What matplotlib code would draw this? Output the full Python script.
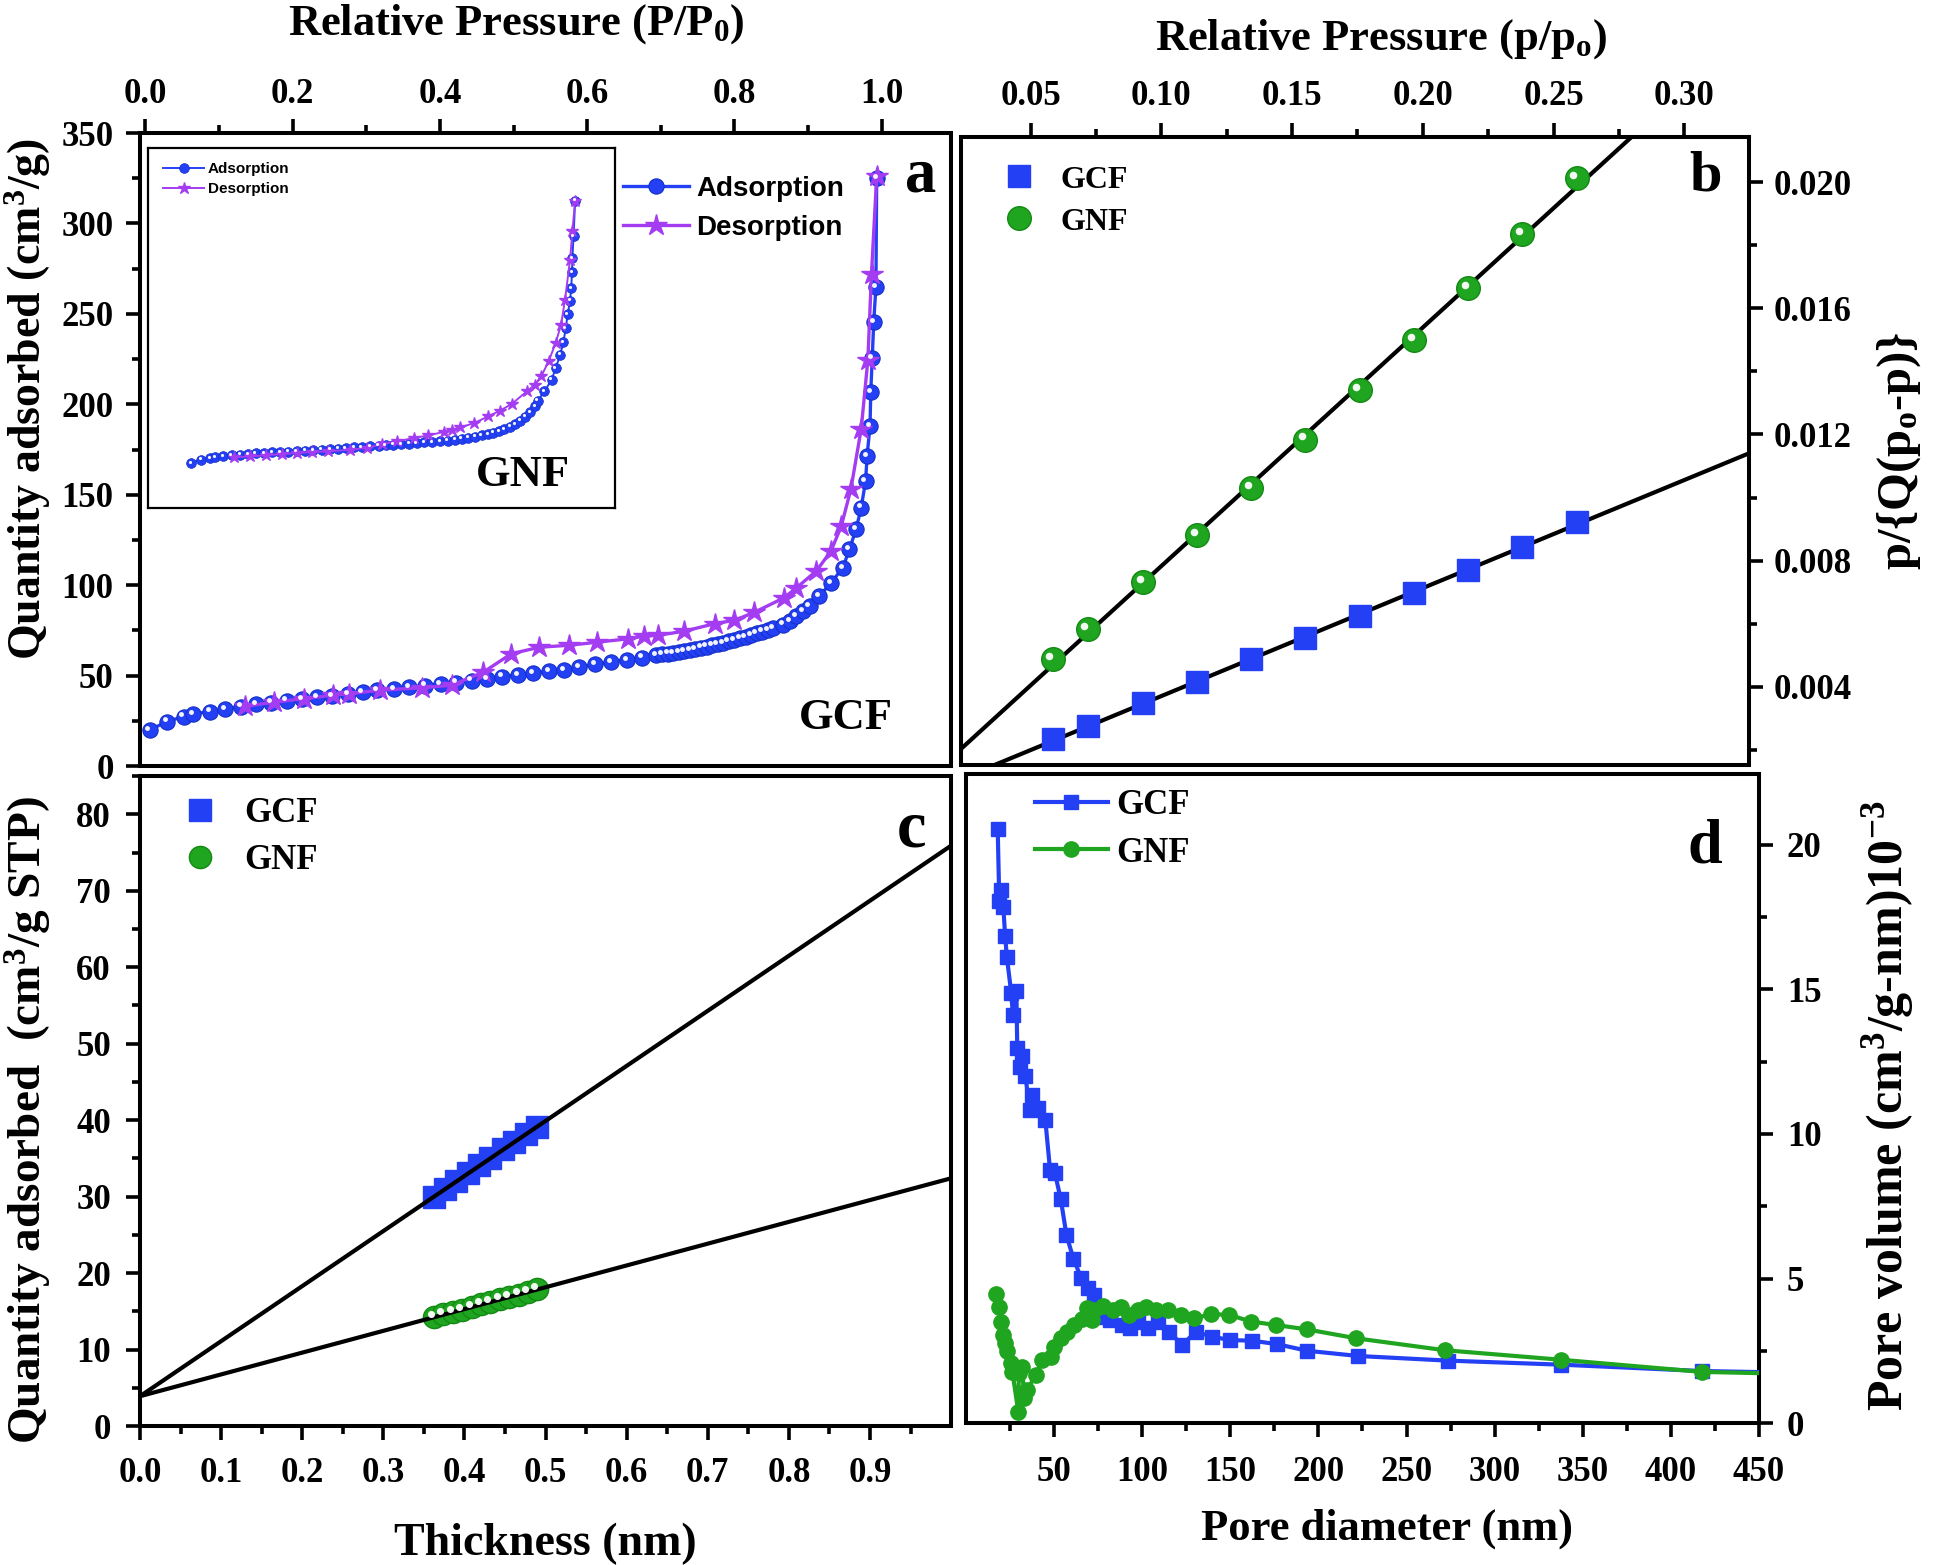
import numpy as np
import matplotlib
matplotlib.use("Agg")
import matplotlib.pyplot as plt
from matplotlib.ticker import MultipleLocator, FormatStrFormatter, FixedLocator
from matplotlib.transforms import ScaledTranslation

# ---- panel a: N2 isotherm of GCF (main) and GNF (inset)
a_ads_p = [0.006, 0.030, 0.052, 0.065, 0.088, 0.109, 0.130, 0.151, 0.171, 0.192, 0.213, 0.233,
           0.254, 0.275, 0.295, 0.315, 0.338, 0.358, 0.380, 0.401, 0.422, 0.443, 0.464, 0.484,
           0.506, 0.527, 0.548, 0.569, 0.589, 0.611, 0.633, 0.654, 0.674, 0.694, 0.702, 0.710,
           0.717, 0.725, 0.732, 0.740, 0.747, 0.755, 0.762, 0.770, 0.777, 0.785, 0.792, 0.800,
           0.807, 0.815, 0.822, 0.830, 0.837, 0.845, 0.852, 0.866, 0.875, 0.884, 0.893, 0.902,
           0.915, 0.931, 0.947, 0.956, 0.965, 0.972, 0.978, 0.980, 0.984, 0.985, 0.987, 0.989,
           0.992, 0.993]
a_ads_q = [20.0, 24.6, 27.4, 28.8, 30.1, 31.4, 32.9, 34.4, 35.1, 36.2, 37.2, 38.1,
           38.8, 39.9, 40.8, 41.8, 42.7, 43.6, 44.5, 45.5, 46.2, 47.3, 48.3, 49.5,
           50.5, 51.4, 52.3, 53.2, 54.7, 56.3, 57.6, 58.8, 60.0, 61.2, 61.7, 62.2,
           62.7, 63.2, 63.7, 64.3, 64.9, 65.5, 66.1, 66.8, 67.5, 68.2, 69.0, 69.8,
           70.6, 71.5, 72.4, 73.4, 74.4, 75.4, 76.4, 78.2, 80.0, 82.8, 85.6, 88.4,
           93.9, 101.3, 109.6, 119.8, 130.9, 142.9, 157.7, 171.5, 188.2, 207.0, 225.6, 245.5,
           265.0, 325.0]
a_des_p = [0.135, 0.175, 0.215, 0.255, 0.276, 0.319, 0.376, 0.416, 0.459, 0.497, 0.535, 0.576,
           0.614, 0.656, 0.677, 0.696, 0.731, 0.773, 0.800, 0.827, 0.867, 0.884, 0.911, 0.931,
           0.945, 0.958, 0.972, 0.981, 0.986, 0.993]
a_des_q = [33.1, 35.3, 37.3, 39.2, 40.0, 42.0, 43.3, 44.7, 51.9, 62.1, 65.7, 66.8,
           68.5, 70.4, 71.8, 72.3, 74.5, 78.7, 80.6, 85.0, 93.0, 98.5, 107.8, 118.9,
           132.7, 153.1, 186.4, 224.3, 272.3, 326.0]

gnf_ads_p = [0.006, 0.032, 0.055, 0.068, 0.089, 0.111, 0.132, 0.153, 0.172, 0.195, 0.215, 0.236,
             0.256, 0.278, 0.299, 0.320, 0.342, 0.363, 0.385, 0.404, 0.425, 0.445, 0.466, 0.488,
             0.506, 0.526, 0.546, 0.566, 0.586, 0.606, 0.626, 0.646, 0.666, 0.685, 0.702, 0.719,
             0.736, 0.753, 0.769, 0.783, 0.798, 0.811, 0.826, 0.839, 0.852, 0.865, 0.877, 0.890,
             0.897, 0.914, 0.933, 0.943, 0.955, 0.963, 0.969, 0.974, 0.980, 0.983, 0.985, 0.986,
             0.989, 0.993]
gnf_ads_q = [43.7, 47.0, 48.6, 49.2, 50.2, 51.2, 51.8, 52.5, 53.1, 53.5, 54.1, 54.4,
             54.8, 55.1, 55.7, 56.1, 56.7, 57.3, 57.7, 58.3, 59.0, 59.3, 59.9, 60.6,
             60.9, 61.6, 61.9, 62.5, 63.2, 63.8, 64.2, 64.8, 65.4, 66.4, 67.4, 68.4,
             69.3, 70.6, 71.9, 73.2, 74.8, 76.8, 79.1, 81.6, 84.9, 88.8, 93.3, 98.8,
             104.3, 113.4, 124.7, 136.1, 149.0, 161.4, 175.0, 188.6, 201.5, 213.8, 229.4, 243.0,
             264.1, 298.7]
gnf_des_p = [0.117, 0.158, 0.198, 0.239, 0.278, 0.318, 0.359, 0.415, 0.458, 0.496, 0.535, 0.578,
             0.616, 0.655, 0.676, 0.698, 0.734, 0.770, 0.800, 0.830, 0.869, 0.890, 0.906, 0.925,
             0.943, 0.957, 0.967, 0.980, 0.986, 0.993]
gnf_des_q = [49.2, 50.2, 51.2, 52.5, 53.5, 54.4, 55.1, 56.7, 58.3, 62.2, 64.8, 68.0,
             70.6, 73.9, 76.1, 78.4, 82.6, 89.1, 94.6, 101.1, 113.4, 119.9, 128.0, 142.6,
             160.4, 178.2, 202.5, 241.4, 268.9, 298.7]

# ---- panel b: BET plots
b_p = [0.0585, 0.0719, 0.0931, 0.1136, 0.1344, 0.1551, 0.1758, 0.1966, 0.2173, 0.2380, 0.2588]
b_gcf = [0.00234, 0.00276, 0.00349, 0.00416, 0.00487, 0.00554, 0.00625, 0.00698, 0.00772, 0.00844, 0.00923]
b_gnf = [0.00487, 0.00582, 0.00733, 0.00880, 0.01030, 0.01184, 0.01340, 0.01500, 0.01664, 0.01834, 0.02013]

# ---- panel c: t-plots (points and fitted lines: value at t=0 and t=1 nm)
c_gcf_t = [0.362, 0.376, 0.390, 0.404, 0.418, 0.432, 0.447, 0.461, 0.476, 0.490]
c_gcf_q = [29.9, 31.0, 32.0, 33.1, 34.1, 35.1, 36.2, 37.2, 38.2, 39.1]
c_gnf_t = [0.362, 0.374, 0.386, 0.397, 0.409, 0.420, 0.432, 0.444, 0.455, 0.467, 0.478, 0.490]
c_gnf_q = [14.2, 14.6, 14.9, 15.2, 15.6, 15.9, 16.2, 16.6, 16.9, 17.2, 17.5, 17.9]
c_fit_t = [0.0, 1.0]
c_gcf_fit = [3.9, 75.9]
c_gnf_fit = [3.9, 32.4]

# ---- panel d: pore size distribution
d_gcf_x = [18.0, 18.9, 19.9, 21.2, 22.2, 23.2, 25.7, 26.6, 28.6, 29.1, 30.8, 32.0, 33.7, 36.2,
           37.2, 41.0, 45.0, 47.7, 50.5, 53.8, 57.0, 61.0, 65.5, 69.5, 72.7, 77.5, 81.6, 88.8,
           93.2, 97.4, 103.1, 108.8, 115.4, 122.6, 130.5, 139.5, 149.9, 162.2, 176.5, 193.7,
           222.5, 273.3, 337.6, 417.5, 470.0]
d_gcf_y = [20.56, 18.05, 18.43, 17.85, 16.86, 16.12, 14.87, 14.12, 14.93, 12.97, 12.33, 12.68, 12.01, 10.83,
           11.35, 10.89, 10.50, 8.76, 8.64, 7.74, 6.51, 5.67, 5.01, 4.66, 4.43, 3.68, 3.57, 3.39,
           3.28, 3.51, 3.28, 3.51, 3.16, 2.70, 3.16, 2.99, 2.87, 2.85, 2.73, 2.50,
           2.32, 2.16, 2.02, 1.80, 1.74]
d_gnf_x = [17.3, 18.7, 19.6, 20.9, 22.1, 23.4, 25.3, 26.3, 29.7, 30.0, 32.0, 32.9, 34.8, 39.5,
           43.3, 48.1, 50.0, 53.8, 57.6, 61.3, 65.7, 68.9, 71.4, 72.7, 77.5, 83.2, 87.9, 92.6,
           97.4, 102.1, 107.8, 114.4, 122.0, 129.6, 139.1, 149.5, 161.8, 176.1, 193.5, 221.6,
           271.6, 337.6, 417.5, 470.0]
d_gnf_y = [4.47, 4.03, 3.51, 3.05, 2.78, 2.50, 2.07, 1.78, 0.39, 1.72, 1.95, 0.85, 1.14, 1.66,
           2.18, 2.30, 2.64, 2.93, 3.16, 3.39, 3.59, 3.97, 3.57, 3.91, 4.06, 3.91, 4.03, 3.74,
           3.91, 4.03, 3.91, 3.91, 3.74, 3.62, 3.77, 3.74, 3.51, 3.39, 3.24, 2.93,
           2.52, 2.19, 1.77, 1.70]

BLUE = "#2440f5"
PURPLE = "#a43cf2"
GREEN = "#1fa51f"
SERIF = "Liberation Serif"
SANS = "Liberation Sans"

plt.rcParams["font.family"] = SERIF
plt.rcParams["font.weight"] = "bold"
plt.rcParams["mathtext.fontset"] = "custom"
plt.rcParams["mathtext.rm"] = "Liberation Serif:bold"
plt.rcParams["mathtext.it"] = "Liberation Serif:italic:bold"
plt.rcParams["mathtext.bf"] = "Liberation Serif:bold"

fig = plt.figure(figsize=(19.37, 15.65), dpi=100)


def frame(ax):
    for s in ax.spines.values():
        s.set_linewidth(2.9)
    ax.tick_params(which="both", direction="out", width=2.6, labelsize=25)
    ax.tick_params(which="major", length=10)
    ax.tick_params(which="minor", length=6)
    for lab in ax.get_xticklabels() + ax.get_yticklabels():
        lab.set_fontweight("bold")


def highlight(ax, x, y, ms, dx=-0.14, dy=0.14):
    off = ScaledTranslation(dx * ms / 72, dy * ms / 72, fig.dpi_scale_trans)
    ax.plot(x, y, "o", ls="none", color="white", ms=ms * 0.32, mew=0,
            transform=ax.transData + off, zorder=5, alpha=0.95)


# ================= panel a =================
ax_a = fig.add_axes([0.0723, 0.5105, 0.4187, 0.4045])
ax_a.plot(a_ads_p, a_ads_q, "-o", color=BLUE, lw=2.4, ms=11, mec="#1530c8", mew=0.8,
          label="Adsorption", zorder=3)
highlight(ax_a, a_ads_p, a_ads_q, 11)
ax_a.plot(a_des_p, a_des_q, "-*", color=PURPLE, lw=2.4, ms=16, mec=PURPLE,
          label="Desorption", zorder=4)
ax_a.set_xlim(-0.007, 1.094)
ax_a.set_ylim(0, 350)
ax_a.xaxis.tick_top()
ax_a.xaxis.set_label_position("top")
ax_a.xaxis.set_major_locator(MultipleLocator(0.2))
ax_a.xaxis.set_minor_locator(MultipleLocator(0.1))
ax_a.xaxis.set_major_formatter(FormatStrFormatter("%.1f"))
ax_a.yaxis.set_major_locator(MultipleLocator(50))
ax_a.yaxis.set_minor_locator(MultipleLocator(25))
frame(ax_a)
ax_a.tick_params(axis="x", which="both", pad=6)
ax_a.tick_params(axis="y", which="both", pad=9)
ax_a.set_xlabel(r"Relative Pressure (P/P$_\mathrm{0}$)", fontsize=32, fontweight="bold", labelpad=31)
ax_a.xaxis.label.set_x(0.464)
ax_a.set_ylabel(r"Quantity adsorbed (cm$^\mathrm{3}$/g)", fontsize=33, fontweight="bold", labelpad=6)
ax_a.yaxis.label.set_y(0.58)
ax_a.legend(loc="upper left", bbox_to_anchor=(0.595, 0.932), frameon=False,
            prop={"family": SANS, "weight": "bold", "size": 20},
            handlelength=2.4, handletextpad=0.25, labelspacing=0.45, borderpad=0, borderaxespad=0)
ax_a.text(0.962, 0.907, "a", transform=ax_a.transAxes, ha="center", va="baseline",
          fontsize=45, fontweight="bold")
ax_a.text(0.870, 0.058, "GCF", transform=ax_a.transAxes, ha="center", va="baseline",
          fontsize=32, fontweight="bold")

ins = ax_a.inset_axes([0.0099, 0.4076, 0.576, 0.569])
ins.plot(gnf_ads_p, gnf_ads_q, "-o", color=BLUE, lw=1.4, ms=7, mec="#1530c8", mew=0.5,
         label="Adsorption", zorder=3)
highlight(ins, gnf_ads_p, gnf_ads_q, 7)
ins.plot(gnf_des_p, gnf_des_q, "-*", color=PURPLE, lw=1.4, ms=9, mec=PURPLE,
         label="Desorption", zorder=4)
ins.set_xlim(-0.104, 1.096)
ins.set_ylim(0, 350)
ins.set_xticks([])
ins.set_yticks([])
for s in ins.spines.values():
    s.set_linewidth(1.6)
ins.legend(loc="upper left", bbox_to_anchor=(0.032, 0.96), frameon=False,
           prop={"family": SANS, "weight": "bold", "size": 11},
           handlelength=2.7, handletextpad=0.25, labelspacing=0.4, borderpad=0, borderaxespad=0)
ins.text(0.803, 0.061, "GNF", transform=ins.transAxes, ha="center", va="baseline",
         fontsize=32, fontweight="bold")

# ================= panel b =================
ax_b = fig.add_axes([0.4961, 0.5115, 0.4068, 0.401])
b_xlim = (0.0234, 0.3247)
ax_b.set_xlim(*b_xlim)
ax_b.set_ylim(0.00154, 0.02143)
xx = np.array(b_xlim)
for vals in (b_gcf, b_gnf):
    k, c0 = np.polyfit(b_p, vals, 1)
    ax_b.plot(xx, k * xx + c0, color="black", lw=3.0, zorder=2)
ax_b.plot(b_p, b_gcf, "s", ls="none", color=BLUE, ms=16, label="GCF", zorder=3)
ax_b.plot(b_p, b_gnf, "o", ls="none", color=GREEN, ms=17, mec="#138a13", mew=1,
          label="GNF", zorder=3)
highlight(ax_b, b_p, b_gnf, 17)
ax_b.xaxis.tick_top()
ax_b.xaxis.set_label_position("top")
ax_b.yaxis.tick_right()
ax_b.yaxis.set_label_position("right")
ax_b.xaxis.set_major_locator(FixedLocator([0.05, 0.10, 0.15, 0.20, 0.25, 0.30]))
ax_b.xaxis.set_minor_locator(FixedLocator([0.075, 0.125, 0.175, 0.225, 0.275]))
ax_b.xaxis.set_major_formatter(FormatStrFormatter("%.2f"))
ax_b.yaxis.set_major_locator(FixedLocator([0.004, 0.008, 0.012, 0.016, 0.020]))
ax_b.yaxis.set_minor_locator(FixedLocator([0.002, 0.006, 0.010, 0.014, 0.018]))
ax_b.yaxis.set_major_formatter(FormatStrFormatter("%.3f"))
frame(ax_b)
ax_b.tick_params(axis="x", which="both", pad=7.5)
ax_b.tick_params(axis="y", which="both", pad=8)
ax_b.set_xlabel(r"Relative Pressure (p/p$_\mathrm{o}$)", fontsize=32, fontweight="bold", labelpad=22)
ax_b.xaxis.label.set_x(0.533)
ax_b.set_ylabel(r"p/{Q(p$_\mathrm{o}$-p)}", fontsize=35, fontweight="bold", labelpad=17,
                rotation=90, va="top")
ax_b.legend(loc="upper left", bbox_to_anchor=(0.053, 0.955), frameon=False,
            prop={"family": SERIF, "weight": "bold", "size": 23},
            handlelength=1.0, handletextpad=0.8, labelspacing=0.4, borderpad=0, borderaxespad=0)
ax_b.text(0.945, 0.914, "b", transform=ax_b.transAxes, ha="center", va="baseline",
          fontsize=42, fontweight="bold")

# ================= panel c =================
ax_c = fig.add_axes([0.0723, 0.0888, 0.4187, 0.4153])
ax_c.plot(c_fit_t, c_gcf_fit, color="black", lw=3.0, zorder=4)
ax_c.plot(c_fit_t, c_gnf_fit, color="black", lw=3.0, zorder=4)
ax_c.plot(c_gcf_t, c_gcf_q, "s", ls="none", color=BLUE, ms=16, label="GCF", zorder=3)
ax_c.plot(c_gnf_t, c_gnf_q, "o", ls="none", color=GREEN, ms=16, mec="#138a13", mew=1,
          label="GNF", zorder=3)
highlight(ax_c, c_gnf_t, c_gnf_q, 16)
ax_c.set_xlim(0, 1.0)
ax_c.set_ylim(0, 85)
ax_c.xaxis.set_major_locator(FixedLocator([0.0, 0.1, 0.2, 0.3, 0.4, 0.5, 0.6, 0.7, 0.8, 0.9]))
ax_c.xaxis.set_minor_locator(FixedLocator([0.05, 0.15, 0.25, 0.35, 0.45, 0.55, 0.65, 0.75, 0.85, 0.95]))
ax_c.xaxis.set_major_formatter(FormatStrFormatter("%.1f"))
ax_c.yaxis.set_major_locator(MultipleLocator(10))
ax_c.yaxis.set_minor_locator(MultipleLocator(5))
frame(ax_c)
ax_c.tick_params(axis="x", which="both", pad=12)
ax_c.tick_params(axis="y", which="both", pad=11)
ax_c.set_xlabel("Thickness (nm)", fontsize=33, fontweight="bold", labelpad=24)
ax_c.set_ylabel(r"Quantity adsorbed  (cm$^\mathrm{3}$/g STP)", fontsize=34, fontweight="bold", labelpad=16)
ax_c.yaxis.label.set_y(0.47)
ax_c.legend(loc="upper left", bbox_to_anchor=(0.052, 0.968), frameon=False,
            prop={"family": SERIF, "weight": "bold", "size": 25},
            handlelength=1.0, handletextpad=0.8, labelspacing=0.42, borderpad=0, borderaxespad=0)
ax_c.text(0.951, 0.892, "c", transform=ax_c.transAxes, ha="center", va="baseline",
          fontsize=48, fontweight="bold")

# ================= panel d =================
ax_d = fig.add_axes([0.4987, 0.0907, 0.4094, 0.4147])
ax_d.plot(d_gcf_x, d_gcf_y, "-s", color=BLUE, lw=3.0, ms=10, label="GCF", zorder=3)
ax_d.plot(d_gnf_x, d_gnf_y, "-o", color=GREEN, lw=3.0, ms=11, label="GNF", zorder=4)
ax_d.set_xlim(0, 450)
ax_d.set_ylim(0, 22.45)
ax_d.yaxis.tick_right()
ax_d.yaxis.set_label_position("right")
ax_d.xaxis.set_major_locator(FixedLocator(list(range(50, 451, 50))))
ax_d.xaxis.set_minor_locator(FixedLocator(list(range(25, 451, 50))))
ax_d.yaxis.set_major_locator(MultipleLocator(5))
ax_d.yaxis.set_minor_locator(MultipleLocator(2.5))
frame(ax_d)
ax_d.tick_params(axis="x", which="both", pad=14)
ax_d.tick_params(axis="y", which="both", pad=10)
ax_d.set_xlabel("Pore diameter (nm)", fontsize=32, fontweight="bold", labelpad=14)
ax_d.xaxis.label.set_x(0.531)
ax_d.set_ylabel(r"Pore volume (cm$^\mathrm{3}$/g-nm)10$^\mathrm{-3}$", fontsize=36, fontweight="bold",
                labelpad=28, rotation=90, va="top")
ax_d.yaxis.label.set_y(0.489)
ax_d.legend(loc="upper left", bbox_to_anchor=(0.087, 0.977), frameon=False,
            prop={"family": SERIF, "weight": "bold", "size": 25},
            handlelength=2.1, handletextpad=0.25, labelspacing=0.42, borderpad=0, borderaxespad=0)
ax_d.text(0.932, 0.863, "d", transform=ax_d.transAxes, ha="center", va="baseline",
          fontsize=45, fontweight="bold")

fig.savefig("out.png", dpi=100)
